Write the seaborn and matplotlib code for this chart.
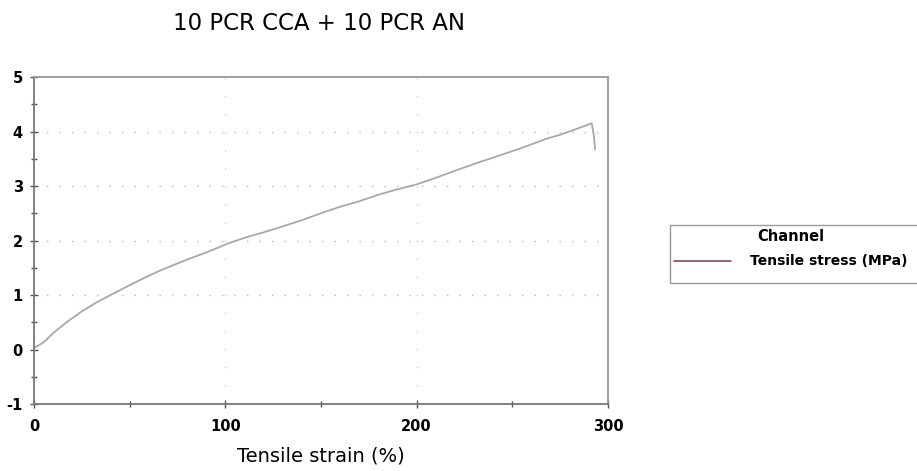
import matplotlib
matplotlib.use("Agg")
import matplotlib.pyplot as plt
from matplotlib.lines import Line2D
from matplotlib.patches import Rectangle
from matplotlib.ticker import MultipleLocator
import seaborn as sns
import pandas as pd

# Tensile test curve: strain (%) vs stress (MPa)
strain = [0, 2, 5, 10, 17, 25, 33, 40, 50, 58, 66, 75, 80, 90, 97, 101, 105,
          111, 120, 130, 139, 150, 160, 170, 180, 190, 200, 210, 220, 233, 245,
          255, 262, 268, 275, 283, 291.5, 292.5, 293.3]
stress = [0.03, 0.07, 0.13, 0.30, 0.50, 0.70, 0.87, 1.00, 1.18, 1.32, 1.45,
          1.58, 1.65, 1.78, 1.88, 1.94, 1.99, 2.06, 2.15, 2.26, 2.36, 2.50,
          2.62, 2.72, 2.84, 2.94, 3.03, 3.15, 3.28, 3.44, 3.58, 3.70, 3.79,
          3.87, 3.94, 4.04, 4.15, 3.95, 3.67]

title = "10 PCR CCA + 10 PCR AN"
x_label = "Tensile strain (%)"
legend_title = "Channel"
series_label = "Tensile stress (MPa)"
x_ticks = [0, 100, 200, 300]
y_ticks = [-1, 0, 1, 2, 3, 4, 5]

sns.set_style("white")
plt.rcParams["font.family"] = ["DejaVu Sans"]
plt.rcParams["axes.unicode_minus"] = False
plt.rcParams["text.color"] = "black"
plt.rcParams["xtick.color"] = "black"
plt.rcParams["ytick.color"] = "black"

df = pd.DataFrame({"strain": strain, "stress": stress})

W, H = 917, 471
fig = plt.figure(figsize=(W / 100, H / 100), dpi=100)
ax = fig.add_axes([34 / W, 1 - 404 / H, (608 - 34) / W, (404 - 77) / H])

sns.lineplot(data=df, x="strain", y="stress", ax=ax, color="#a8a8a8",
             linewidth=1.3, sort=False, legend=False)

ax.set_xlim(0, 300)
ax.set_ylim(-1, 5)
ax.set_xticks(x_ticks)
ax.set_yticks(y_ticks)
ax.xaxis.set_minor_locator(MultipleLocator(50))
ax.yaxis.set_minor_locator(MultipleLocator(0.5))
ax.tick_params(axis="both", which="both", direction="inout", length=6,
               width=1, color="#555555", labelsize=10.5,
               bottom=True, left=True)
ax.tick_params(axis="x", which="major", pad=8)
ax.tick_params(axis="y", which="major", pad=5)
ax.tick_params(axis="both", which="minor", length=5)
for lab in ax.get_xticklabels() + ax.get_yticklabels():
    lab.set_fontweight("bold")

# sparse dotted grid
for yv in [1, 2, 3, 4]:
    ax.axhline(yv, color="#b8b8b8", linestyle=(0, (1, 8)), linewidth=1.0, zorder=0)
for xv in [100, 200]:
    ax.axvline(xv, color="#c8c8c8", linestyle=(0, (1, 12)), linewidth=1.0, zorder=0)

for side in ["left", "bottom"]:
    ax.spines[side].set_color("#777777")
    ax.spines[side].set_linewidth(1.3)
for side in ["top", "right"]:
    ax.spines[side].set_color("#999999")
    ax.spines[side].set_linewidth(1.3)

ax.set_xlabel(x_label, fontsize=14, labelpad=9, color="black")
ax.set_ylabel("")
fig.text(319 / W, 1 - 24 / H, title, ha="center", va="center", fontsize=16.5)

# legend frame runs past the right edge of the figure
fig.patches.append(Rectangle((670 / W, 1 - 283 / H), 270 / W, 58 / H,
                             transform=fig.transFigure, facecolor="white",
                             edgecolor="#999999", linewidth=1.0, zorder=1))
handle = Line2D([0], [0], color="#8a4a5a", linewidth=1.2)
leg = fig.legend([handle], [series_label], title=legend_title,
                 loc="upper left", bbox_to_anchor=(674 / W, 1 - 229 / H),
                 frameon=False, handlelength=4.1, handletextpad=1.35,
                 borderpad=0.0, labelspacing=0.75, fontsize=10,
                 title_fontsize=10.5, borderaxespad=0)
leg.set_zorder(2)
leg.get_title().set_fontweight("bold")
for t in leg.get_texts():
    t.set_fontweight("bold")

fig.savefig("out.png", dpi=100)
